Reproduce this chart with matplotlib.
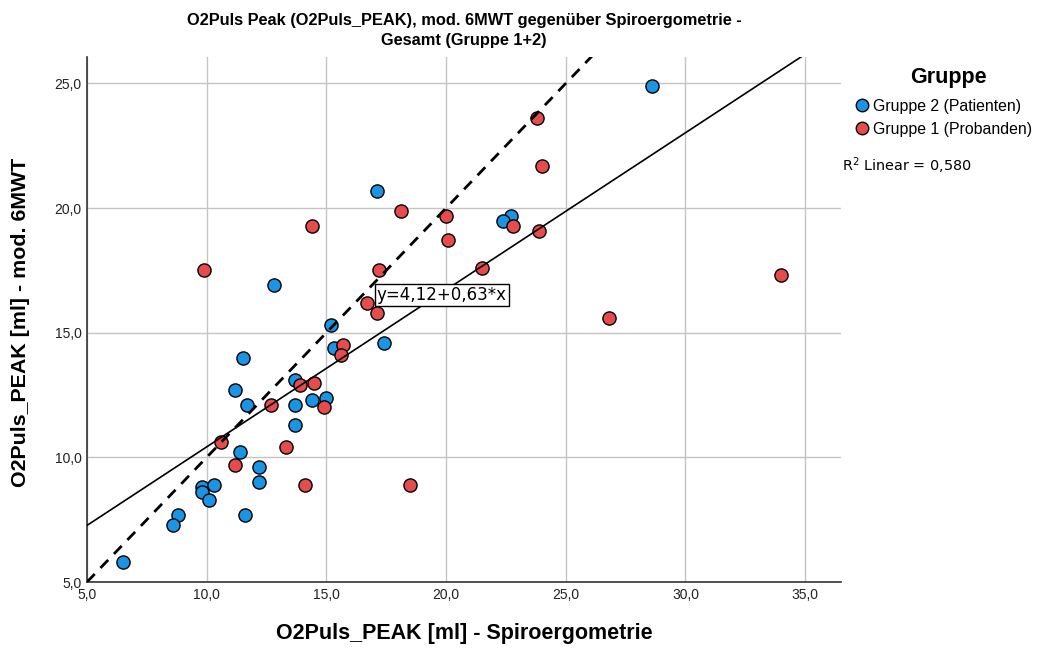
import matplotlib
matplotlib.use("Agg")
import matplotlib.pyplot as plt
import numpy as np
from matplotlib.lines import Line2D

# ---- data ----
g2_x = [6.5, 8.8, 8.6, 9.8, 9.8, 10.3, 10.1, 11.6, 12.2, 12.2, 11.4, 11.2, 11.7, 11.5,
        12.8, 13.7, 13.7, 13.7, 14.4, 15.0, 15.2, 15.3, 17.4, 17.1, 28.6, 22.7, 22.4]
g2_y = [5.8, 7.7, 7.3, 8.8, 8.6, 8.9, 8.3, 7.7, 9.6, 9.0, 10.2, 12.7, 12.1, 14.0,
        16.9, 13.1, 12.1, 11.3, 12.3, 12.4, 15.3, 14.4, 14.6, 20.7, 24.9, 19.7, 19.5]
g1_x = [10.6, 11.2, 12.7, 13.3, 14.1, 18.5, 13.9, 14.5, 14.9, 15.7, 15.6, 16.7, 17.1,
        9.9, 14.4, 18.1, 20.0, 20.1, 17.2, 23.8, 24.0, 22.8, 23.9, 21.5, 34.0, 26.8]
g1_y = [10.6, 9.7, 12.1, 10.4, 8.9, 8.9, 12.9, 13.0, 12.0, 14.5, 14.1, 16.2, 15.8,
        17.5, 19.3, 19.9, 19.7, 18.7, 17.5, 23.6, 21.7, 19.3, 19.1, 17.6, 17.3, 15.6]
fit_intercept = 4.12
fit_slope = 0.63
r2_text = "R$^2$ Linear = 0,580"
fit_text = "y=4,12+0,63*x"
labels = ["Gruppe 2 (Patienten)", "Gruppe 1 (Probanden)"]
ticks = [5, 10, 15, 20, 25, 30, 35]
yticks = [5, 10, 15, 20, 25]

col_blue = "#1a94e4"
col_red = "#e74c4d"

fig = plt.figure(figsize=(10.44, 6.5), dpi=100)
ax = fig.add_axes([87/1044, (650-582)/650, (841-87)/1044, (582-57)/650])
xlim = (5, 36.5)
ylim = (5, 26.06)
ax.set_xlim(*xlim)
ax.set_ylim(*ylim)

ax.grid(True, color="#c4c4c4", lw=1.0, zorder=0)
ax.set_axisbelow(True)
for s in ["top", "right"]:
    ax.spines[s].set_visible(False)
for s in ["left", "bottom"]:
    ax.spines[s].set_color("#333333")
    ax.spines[s].set_linewidth(1.2)
ax.tick_params(length=0, pad=4, labelsize=10, colors="#222222")
ax.set_xticks(ticks)
ax.set_yticks(yticks)
ax.set_xticklabels([f"{t:.1f}".replace(".", ",") for t in ticks], family="Liberation Sans")
ax.set_yticklabels([f"{t:.1f}".replace(".", ",") for t in yticks], family="Liberation Sans")

ms = 90
ax.scatter(g2_x, g2_y, s=ms, c=col_blue, edgecolors="black", linewidths=1.0, zorder=3)
ax.scatter(g1_x, g1_y, s=ms, c=col_red, edgecolors="black", linewidths=1.0, zorder=3)

xx = np.array(xlim)
ax.plot(xx, xx, color="black", lw=2.0, ls=(0, (4, 3)), zorder=4)
ax.plot(xx, fit_intercept + fit_slope * xx, color="black", lw=1.2, zorder=4)

ax.text(17.1, 16.15, fit_text, family="DejaVu Sans", fontsize=12, ha="left", va="bottom",
        bbox=dict(boxstyle="square,pad=0.12", fc="white", ec="black", lw=1.0), zorder=5)

fig.text(464/1044, 1-20/650, "O2Puls Peak (O2Puls_PEAK), mod. 6MWT gegenüber Spiroergometrie -",
         ha="center", va="center", fontsize=11.8, fontweight="bold", family="Liberation Sans")
fig.text(464/1044, 1-41/650, "Gesamt (Gruppe 1+2)",
         ha="center", va="center", fontsize=11.8, fontweight="bold", family="Liberation Sans")

fig.text(464/1044, 1-634/650, "O2Puls_PEAK [ml] - Spiroergometrie", ha="center", va="center",
         fontsize=15.5, fontweight="bold", family="Liberation Sans")
fig.text(21/1044, 1-322/650, "O2Puls_PEAK [ml] - mod. 6MWT", ha="center", va="center",
         rotation=90, fontsize=15.4, fontweight="bold", family="Liberation Sans")

# legend
fig.text(948/1044, 1-77/650, "Gruppe", ha="center", va="center", fontsize=15.5,
         fontweight="bold", family="Liberation Sans")
handles = [Line2D([], [], ls="none", marker="o", ms=9, mfc=c, mec="black", mew=1.0)
           for c in (col_blue, col_red)]
fig.legend(handles, labels, loc="upper left", bbox_to_anchor=(852/1044, 1-99/650),
           frameon=False, prop={"family": "Liberation Sans", "size": 11.4},
           handletextpad=0.1, labelspacing=0.5, handlelength=1.2, borderpad=0, borderaxespad=0)
fig.text(842/1044, 1-166/650, r2_text, ha="left", va="center", fontsize=10.4, family="DejaVu Sans")

fig.savefig("out.png", dpi=100, facecolor="white")
